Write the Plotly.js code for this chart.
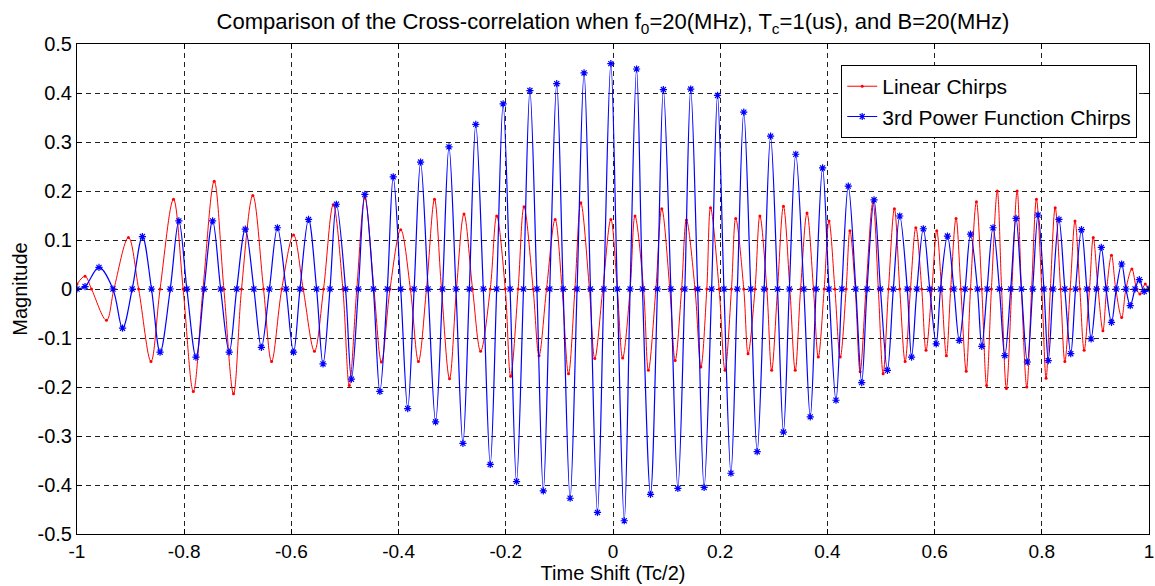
<!DOCTYPE html>
<html>
<head>
<meta charset="utf-8">
<script src="https://cdn.plot.ly/plotly-3.0.1.min.js"></script>
<style>html,body{margin:0;padding:0;background:#fff;}#chart{width:1155px;height:586px;}</style>
</head>
<body>
<div id="chart"></div>
<script>
// Linear chirps: extrema and zero crossings
const redX = [-1.000,-0.985,-0.973,-0.945,-0.931,-0.904,-0.885,-0.862,-0.845,-0.820,-0.802,-0.783,-0.765,-0.744,-0.726,-0.708,-0.693,-0.672,-0.652,-0.637,-0.618,-0.596,-0.578,-0.557,-0.540,-0.522,-0.504,-0.492,-0.478,-0.463,-0.446,-0.432,-0.416,-0.396,-0.378,-0.363,-0.348,-0.333,-0.320,-0.305,-0.292,-0.278,-0.262,-0.247,-0.229,-0.217,-0.201,-0.191,-0.177,-0.166,-0.149,-0.138,-0.124,-0.108,-0.095,-0.083,-0.071,-0.060,-0.044,-0.034,-0.019,-0.004,0.008,0.018,0.032,0.041,0.057,0.066,0.080,0.091,0.106,0.116,0.128,0.137,0.153,0.164,0.175,0.182,0.198,0.209,0.221,0.229,0.244,0.252,0.265,0.274,0.287,0.296,0.307,0.318,0.330,0.340,0.350,0.362,0.374,0.383,0.394,0.403,0.414,0.424,0.435,0.442,0.452,0.461,0.472,0.485,0.495,0.504,0.514,0.525,0.535,0.545,0.555,0.565,0.576,0.584,0.595,0.604,0.613,0.622,0.630,0.640,0.649,0.659,0.667,0.678,0.688,0.697,0.706,0.717,0.725,0.734,0.744,0.754,0.762,0.772,0.781,0.790,0.800,0.808,0.816,0.825,0.835,0.843,0.853,0.862,0.871,0.879,0.889,0.896,0.905,0.914,0.921,0.930,0.938,0.949,0.957,0.968,0.977,0.983,0.993,1.000];
const redY = [0.010,0.026,0.000,-0.064,0.000,0.105,0.000,-0.148,0.000,0.183,0.000,-0.209,0.000,0.220,0.000,-0.214,0.000,0.191,0.000,-0.148,0.000,0.110,0.000,-0.127,0.000,0.172,0.000,-0.197,0.000,0.186,0.000,-0.149,0.000,0.121,0.000,-0.148,0.000,0.183,0.000,-0.183,0.000,0.153,0.000,-0.127,0.000,0.149,0.000,-0.178,0.000,0.168,0.000,-0.136,0.000,0.142,0.000,-0.173,0.000,0.176,0.000,-0.142,0.000,0.142,0.000,-0.141,0.000,0.149,0.000,-0.166,0.000,0.164,0.000,-0.146,0.000,0.141,0.000,-0.159,0.000,0.166,0.000,-0.166,0.000,0.144,0.000,-0.132,0.000,0.149,0.000,-0.166,0.000,0.169,0.000,-0.166,0.000,0.155,0.000,-0.139,0.000,0.139,0.000,-0.139,0.000,0.119,0.000,-0.169,0.000,0.178,0.000,-0.173,0.000,0.164,0.000,-0.148,0.000,0.125,0.000,-0.125,0.000,0.119,0.000,-0.136,0.000,0.144,0.000,-0.168,0.000,0.178,0.000,-0.197,0.000,0.200,0.000,-0.203,0.000,0.200,0.000,-0.200,0.000,0.183,0.000,-0.182,0.000,0.166,0.000,-0.148,0.000,0.139,0.000,-0.125,0.000,0.105,0.000,-0.085,0.000,0.069,0.000,-0.058,0.000,0.041,0.000,-0.010,0.010,0.000];

// 3rd power function chirps
const blueX = [-1.000,-0.985,-0.959,-0.933,-0.915,-0.897,-0.878,-0.861,-0.845,-0.826,-0.810,-0.795,-0.778,-0.763,-0.747,-0.732,-0.716,-0.702,-0.686,-0.670,-0.656,-0.641,-0.626,-0.610,-0.596,-0.584,-0.568,-0.553,-0.541,-0.528,-0.516,-0.499,-0.488,-0.475,-0.463,-0.447,-0.435,-0.421,-0.410,-0.396,-0.383,-0.371,-0.359,-0.345,-0.331,-0.318,-0.306,-0.293,-0.280,-0.268,-0.256,-0.242,-0.229,-0.217,-0.205,-0.192,-0.180,-0.167,-0.155,-0.142,-0.130,-0.118,-0.105,-0.093,-0.080,-0.067,-0.054,-0.042,-0.029,-0.017,-0.004,0.008,0.021,0.032,0.044,0.055,0.070,0.083,0.094,0.108,0.121,0.134,0.145,0.158,0.170,0.184,0.195,0.207,0.220,0.232,0.244,0.257,0.269,0.282,0.294,0.307,0.318,0.329,0.341,0.356,0.368,0.379,0.391,0.403,0.416,0.427,0.439,0.453,0.464,0.474,0.487,0.499,0.512,0.523,0.535,0.549,0.557,0.567,0.579,0.591,0.603,0.611,0.624,0.636,0.646,0.657,0.667,0.680,0.688,0.698,0.709,0.721,0.731,0.742,0.752,0.762,0.773,0.783,0.793,0.804,0.812,0.821,0.832,0.843,0.854,0.863,0.874,0.884,0.892,0.902,0.911,0.920,0.930,0.939,0.949,0.957,0.965,0.974,0.982,0.991,1.000];
const blueY = [0.000,0.005,0.044,0.000,-0.080,0.000,0.107,0.000,-0.129,0.000,0.139,0.000,-0.139,0.000,0.139,0.000,-0.129,0.000,0.122,0.000,-0.119,0.000,0.125,0.000,-0.129,0.000,0.142,0.000,-0.153,0.000,0.173,0.000,-0.184,0.000,0.193,0.000,-0.209,0.000,0.229,0.000,-0.244,0.000,0.259,0.000,-0.271,0.000,0.290,0.000,-0.315,0.000,0.336,0.000,-0.358,0.000,0.378,0.000,-0.393,0.000,0.405,0.000,-0.412,0.000,0.419,0.000,-0.427,0.000,0.441,0.000,-0.456,0.000,0.460,0.000,-0.473,0.000,0.449,0.000,-0.419,0.000,0.407,0.000,-0.407,0.000,0.408,0.000,-0.405,0.000,0.395,0.000,-0.376,0.000,0.361,0.000,-0.332,0.000,0.312,0.000,-0.292,0.000,0.275,0.000,-0.261,0.000,0.247,0.000,-0.227,0.000,0.210,0.000,-0.191,0.000,0.182,0.000,-0.166,0.000,0.149,0.000,-0.139,0.000,0.123,0.000,-0.112,0.000,0.108,0.000,-0.105,0.000,0.112,0.000,-0.117,0.000,0.125,0.000,-0.136,0.000,0.144,0.000,-0.149,0.000,0.151,0.000,-0.146,0.000,0.142,0.000,-0.132,0.000,0.121,0.000,-0.102,0.000,0.085,0.000,-0.068,0.000,0.051,0.000,-0.034,0.000,0.019,-0.005,0.000];

const xTickVals = [-1,-0.8,-0.6,-0.4,-0.2,0,0.2,0.4,0.6,0.8,1];
const xTickText = ['-1','-0.8','-0.6','-0.4','-0.2','0','0.2','0.4','0.6','0.8','1'];
const yTickVals = [-0.5,-0.4,-0.3,-0.2,-0.1,0,0.1,0.2,0.3,0.4,0.5];
const yTickText = ['-0.5','-0.4','-0.3','-0.2','-0.1','0','0.1','0.2','0.3','0.4','0.5'];

const FONT = 'Liberation Sans, Arial, Helvetica, sans-serif';

const traces = [
  {x: redX, y: redY, type: 'scatter', mode: 'lines+markers', name: 'Linear Chirps',
   line: {color: '#ff0000', width: 1, shape: 'spline', smoothing: 1},
   marker: {color: '#ff0000', size: 3, symbol: 'circle'}},
  {x: blueX, y: blueY, type: 'scatter', mode: 'lines+markers', name: '3rd Power Function Chirps',
   line: {color: '#0000ff', width: 1.2, shape: 'spline', smoothing: 1},
   marker: {color: '#0000ff', size: 6, symbol: 'asterisk-open', line: {color: '#0000ff', width: 1.2}}}
];

const axisCommon = {
  showline: true, linecolor: '#000', linewidth: 1, mirror: 'ticks',
  ticks: 'inside', ticklen: 5, tickcolor: '#000',
  showgrid: true, gridcolor: '#222', gridwidth: 1, griddash: '5px,4px',
  zeroline: false, tickmode: 'array'
};

const layout = {
  width: 1155, height: 586,
  margin: {l: 77, r: 6, t: 44, b: 52},
  paper_bgcolor: '#fff', plot_bgcolor: '#fff',
  font: {family: FONT, color: '#000', size: 19},
  title: {text: 'Comparison of the Cross-correlation when f<sub>0</sub>=20(MHz), T<sub>c</sub>=1(us), and B=20(MHz)',
          font: {family: FONT, size: 22, color: '#000'}, x: 0.5, xref: 'paper', xanchor: 'center',
          y: 0.963, yref: 'container', yanchor: 'middle'},
  xaxis: Object.assign({}, axisCommon, {
    range: [-1, 1], tickvals: xTickVals, ticktext: xTickText,
    tickfont: {family: FONT, size: 19},
    title: {text: 'Time Shift (Tc/2)', font: {family: FONT, size: 20}, standoff: 1}
  }),
  yaxis: Object.assign({}, axisCommon, {
    range: [-0.5, 0.5], tickvals: yTickVals, ticktext: yTickText,
    tickfont: {family: FONT, size: 20},
    title: {text: 'Magnitude', font: {family: FONT, size: 20}, standoff: 4}
  }),
  showlegend: true,
  legend: {x: 0.989, xanchor: 'right', y: 0.957, yanchor: 'top',
           bgcolor: '#fff', bordercolor: '#000', borderwidth: 1,
           font: {family: FONT, size: 21, color: '#000'}, tracegroupgap: 0,
           itemwidth: 30}
};

Plotly.newPlot('chart', traces, layout, {staticPlot: true, displayModeBar: false});
</script>
</body>
</html>
